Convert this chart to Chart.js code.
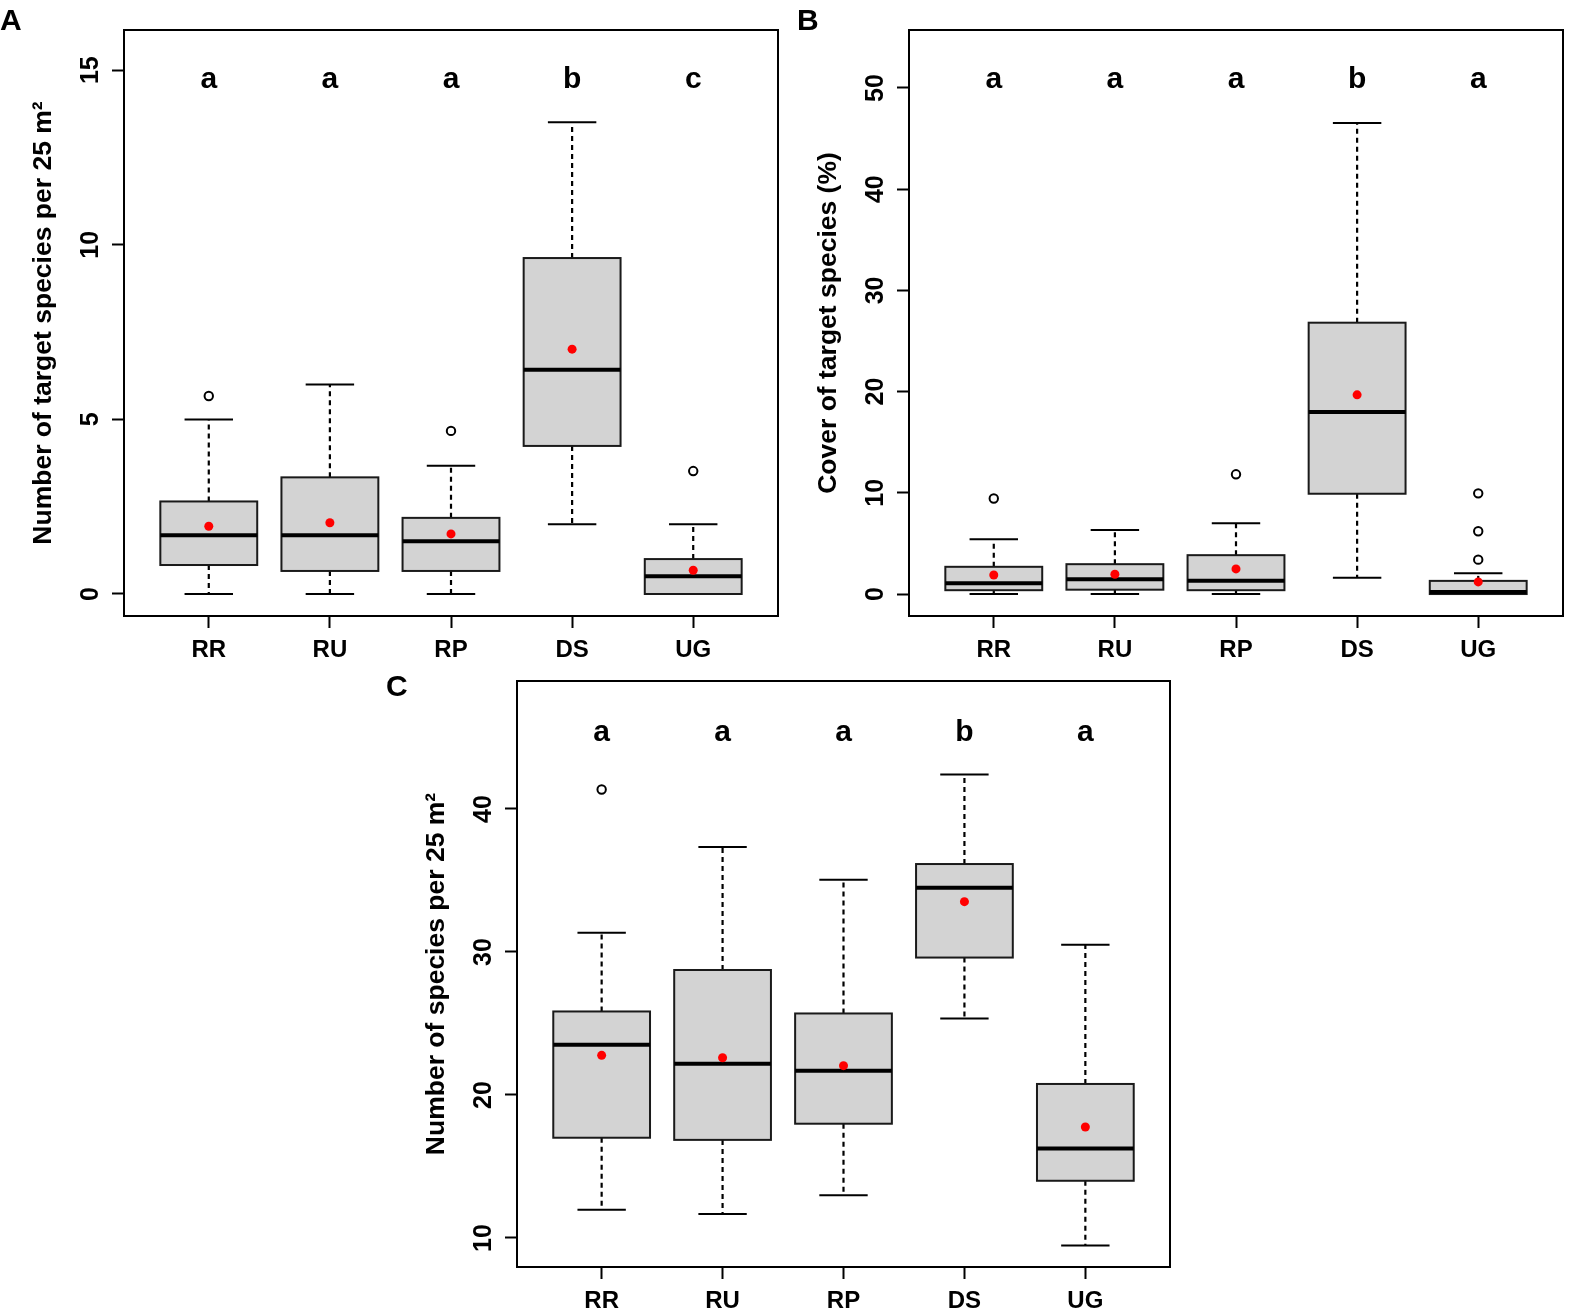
<!DOCTYPE html>
<html>
<head>
<meta charset="utf-8">
<script src="https://cdn.jsdelivr.net/npm/chart.js@4.4.1/dist/chart.umd.min.js"></script>
<style>
  body { margin: 0; background: #fff; width: 1571px; height: 1312px; position: relative; overflow: hidden; }
  canvas { position: absolute; }
</style>
</head>
<body>
<canvas id="chartA" width="790" height="680" style="left:0px;top:0px"></canvas>
<canvas id="chartB" width="786" height="680" style="left:785px;top:0px"></canvas>
<canvas id="chartC" width="803" height="661" style="left:380px;top:651px"></canvas>
<script>
// groups on the x axis
var categories = ["RR", "RU", "RP", "DS", "UG"];
var xTicks = [1, 2, 3, 4, 5];

// A: number of target species per 25 m2
var loA = [0, 0, 0, 2.0, 0];
var q1A = [0.83, 0.66, 0.66, 4.24, 0];
var medA = [1.68, 1.68, 1.51, 6.42, 0.51];
var q3A = [2.65, 3.34, 2.18, 9.62, 1.0];
var hiA = [5.0, 6.0, 3.67, 13.51, 2.0];
var meanA = [1.94, 2.04, 1.72, 7.01, 0.68];
var outA = [[5.67], [], [4.67], [], [3.52]];
var lettersA = ["a", "a", "a", "b", "c"];
var yTicksA = [0, 5, 10, 15];

// B: cover of target species (%)
var loB = [0, 0, 0, 1.62, 0];
var q1B = [0.38, 0.43, 0.38, 9.91, 0];
var medB = [1.07, 1.45, 1.32, 17.98, 0.2];
var q3B = [2.69, 2.95, 3.84, 26.81, 1.3];
var hiB = [5.42, 6.32, 7.0, 46.54, 2.05];
var meanB = [1.88, 1.96, 2.48, 19.68, 1.2];
var outB = [[9.44], [], [11.83], [], [3.4, 6.2, 9.95]];
var lettersB = ["a", "a", "a", "b", "a"];
var yTicksB = [0, 10, 20, 30, 40, 50];

// C: number of species per 25 m2
var loC = [11.97, 11.68, 12.98, 25.35, 9.48];
var q1C = [17.01, 16.86, 17.99, 29.61, 14.0];
var medC = [23.52, 22.19, 21.70, 34.5, 16.26];
var q3C = [25.84, 28.74, 25.70, 36.15, 20.77];
var hiC = [31.34, 37.34, 35.05, 42.41, 30.5];
var meanC = [22.77, 22.6, 22.05, 33.52, 17.76];
var outC = [[41.36], [], [], [], []];
var lettersC = ["a", "a", "a", "b", "a"];
var yTicksC = [10, 20, 30, 40];

var FONT = '"Liberation Sans", Arial, Helvetica, sans-serif';
Chart.defaults.font.family = FONT;
Chart.defaults.color = "#000";

// boxes, whiskers, medians, frame and rotated y labels
var boxPlot = {
    id: "boxPlot",
    beforeDatasetsDraw: function(chart, args, opts) {
        var ctx = chart.ctx;
        var x = chart.scales.x;
        var y = chart.scales.y;
        opts.lo.forEach(function(lo, i) {
            var cx = x.getPixelForValue(i + 1);
            var bl = x.getPixelForValue(i + 1 - 0.4);
            var br = x.getPixelForValue(i + 1 + 0.4);
            var sl = x.getPixelForValue(i + 1 - 0.2);
            var sr = x.getPixelForValue(i + 1 + 0.2);
            var yLo = y.getPixelForValue(lo);
            var yQ1 = y.getPixelForValue(opts.q1[i]);
            var yMed = y.getPixelForValue(opts.med[i]);
            var yQ3 = y.getPixelForValue(opts.q3[i]);
            var yHi = y.getPixelForValue(opts.hi[i]);
            ctx.save();
            ctx.strokeStyle = "#000";
            ctx.lineWidth = 2.2;
            ctx.setLineDash([5, 4]);
            ctx.beginPath();
            ctx.moveTo(cx, yQ1); ctx.lineTo(cx, yLo);
            ctx.moveTo(cx, yQ3); ctx.lineTo(cx, yHi);
            ctx.stroke();
            ctx.setLineDash([]);
            ctx.lineWidth = 2;
            ctx.beginPath();
            ctx.moveTo(sl, yLo); ctx.lineTo(sr, yLo);
            ctx.moveTo(sl, yHi); ctx.lineTo(sr, yHi);
            ctx.stroke();
            ctx.fillStyle = "#d3d3d3";
            ctx.fillRect(bl, yQ3, br - bl, yQ1 - yQ3);
            ctx.strokeStyle = "#1a1a1a";
            ctx.strokeRect(bl, yQ3, br - bl, yQ1 - yQ3);
            ctx.strokeStyle = "#000";
            ctx.lineWidth = 4;
            ctx.beginPath();
            ctx.moveTo(bl, yMed); ctx.lineTo(br, yMed);
            ctx.stroke();
            ctx.restore();
        });
    },
    afterDraw: function(chart, args, opts) {
        var ctx = chart.ctx;
        var area = chart.chartArea;
        var x = chart.scales.x;
        var y = chart.scales.y;
        ctx.save();
        ctx.strokeStyle = "#000";
        ctx.lineWidth = 2;
        ctx.strokeRect(area.left, area.top, area.right - area.left, area.bottom - area.top);

        ctx.fillStyle = "#000";
        ctx.font = "bold 25px " + FONT;
        ctx.textAlign = "center";
        ctx.textBaseline = "alphabetic";
        y.ticks.forEach(function(t) {
            ctx.save();
            ctx.translate(area.left - 26, y.getPixelForValue(t.value));
            ctx.rotate(-Math.PI / 2);
            ctx.fillText(String(t.value), 0, 0);
            ctx.restore();
        });

        ctx.font = "bold 30px " + FONT;
        opts.letters.forEach(function(l, i) {
            ctx.fillText(l, x.getPixelForValue(i + 1), y.getPixelForValue(opts.letterY));
        });

        ctx.textAlign = "left";
        ctx.fillText(opts.panel, opts.panelX, opts.panelY);
        ctx.restore();
    }
};

function makePanel(id, p) {
    var outliers = [];
    p.out.forEach(function(vals, i) {
        vals.forEach(function(v) { outliers.push({ x: i + 1, y: v }); });
    });
    return new Chart(document.getElementById(id), {
        type: "scatter",
        data: {
            datasets: [
                {
                    label: "mean",
                    data: p.mean.map(function(v, i) { return { x: i + 1, y: v }; }),
                    pointRadius: 4.5,
                    pointBackgroundColor: "#ff0000",
                    pointBorderWidth: 0
                },
                {
                    label: "outliers",
                    data: outliers,
                    pointRadius: 4.2,
                    pointBackgroundColor: "rgba(0,0,0,0)",
                    pointBorderColor: "#000",
                    pointBorderWidth: 2
                }
            ]
        },
        options: {
            responsive: false,
            animation: false,
            events: [],
            layout: { padding: { left: 0, top: 30, right: p.padRight, bottom: 0 } },
            plugins: {
                legend: { display: false },
                tooltip: { enabled: false },
                boxPlot: {
                    lo: p.lo, q1: p.q1, med: p.med, q3: p.q3, hi: p.hi,
                    letters: p.letters, letterY: p.letterY,
                    panel: p.panel, panelX: p.panelX, panelY: p.panelY
                }
            },
            scales: {
                x: {
                    type: "linear",
                    min: 0.3,
                    max: 5.7,
                    afterBuildTicks: function(scale) {
                        scale.ticks = xTicks.map(function(v) { return { value: v }; });
                    },
                    afterFit: function(scale) { scale.height = p.xAxisH; },
                    ticks: {
                        font: { size: 24, weight: "bold" },
                        color: "#000",
                        padding: 8,
                        maxRotation: 0,
                        callback: function(value, index) { return categories[index]; }
                    },
                    grid: {
                        drawOnChartArea: false,
                        tickLength: 12,
                        tickColor: "#000",
                        tickWidth: 2
                    },
                    border: { display: true, color: "#000", width: 2 }
                },
                y: {
                    type: "linear",
                    min: p.yMin,
                    max: p.yMax,
                    afterBuildTicks: function(scale) {
                        scale.ticks = p.yTicks.map(function(v) { return { value: v }; });
                    },
                    afterFit: function(scale) { scale.width = p.yAxisW; },
                    ticks: { display: false },
                    grid: {
                        drawOnChartArea: false,
                        tickLength: 12,
                        tickColor: "#000",
                        tickWidth: 2
                    },
                    border: { display: true, color: "#000", width: 2 },
                    title: {
                        display: true,
                        text: p.title,
                        font: { size: 26.5, weight: "bold" },
                        color: "#000",
                        padding: { top: p.yAxisW - 80 - 15.9, bottom: 0 }
                    }
                }
            }
        },
        plugins: [boxPlot]
    });
}

makePanel("chartA", {
    lo: loA, q1: q1A, med: medA, q3: q3A, hi: hiA, mean: meanA, out: outA,
    letters: lettersA, letterY: 14.49, yTicks: yTicksA, yMin: -0.63, yMax: 16.15,
    title: "Number of target species per 25 m\u00b2",
    panel: "A", panelX: 0, panelY: 30,
    yAxisW: 124, xAxisH: 64, padRight: 12
});

makePanel("chartB", {
    lo: loB, q1: q1B, med: medB, q3: q3B, hi: hiB, mean: meanB, out: outB,
    letters: lettersB, letterY: 50.0, yTicks: yTicksB, yMin: -2.17, yMax: 55.73,
    title: "Cover of target species (%)",
    panel: "B", panelX: 12, panelY: 30,
    yAxisW: 124, xAxisH: 64, padRight: 8
});

makePanel("chartC", {
    lo: loC, q1: q1C, med: medC, q3: q3C, hi: hiC, mean: meanC, out: outC,
    letters: lettersC, letterY: 44.78, yTicks: yTicksC, yMin: 7.97, yMax: 48.95,
    title: "Number of species per 25 m\u00b2",
    panel: "C", panelX: 6, panelY: 45,
    yAxisW: 137, xAxisH: 45, padRight: 13
});
</script>
</body>
</html>
